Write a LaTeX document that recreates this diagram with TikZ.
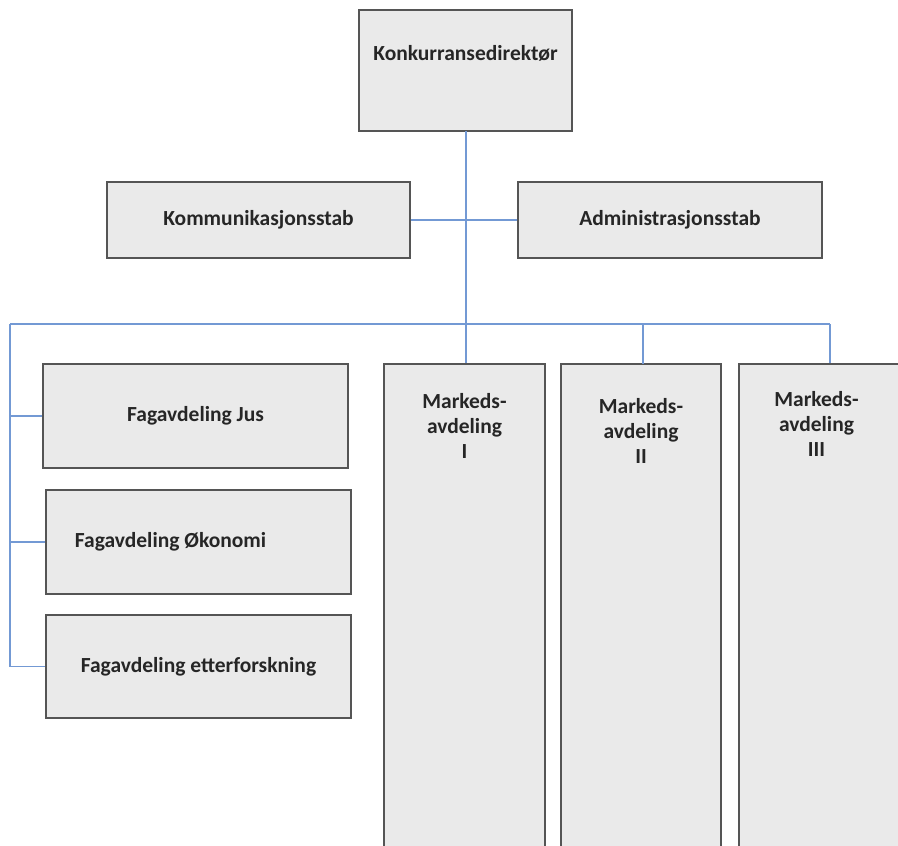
\documentclass[tikz,border=0pt]{standalone}
\usepackage{fontspec}
\setmainfont{Carlito}
\definecolor{boxfill}{RGB}{234,234,234}
\definecolor{boxline}{RGB}{85,85,85}
\definecolor{conncol}{RGB}{115,153,212}
\tikzset{
  orgbox/.style={draw=boxline, line width=1.8pt, fill=boxfill, rectangle, inner sep=0pt,
    font=\fontsize{21.5}{25}\selectfont\bfseries, text=black!85},
  conn/.style={draw=conncol, line width=1.6pt},
  mlabel/.style={anchor=north, align=center, inner sep=0pt, yshift=-30pt,
    font=\fontsize{21.5}{25}\selectfont\bfseries, text=black!85}
}
\begin{document}
\begin{tikzpicture}[x=1pt,y=-1pt]
\useasboundingbox (0,0) rectangle (898,846);
\clip (0,0) rectangle (898,846);
\fill[white] (0,0) rectangle (898,846);

\node[orgbox, minimum width=213pt, minimum height=121pt] (top) at (465.5,70.5) {\smash{\raisebox{10pt}{Konkurransedirektør}}};
\node[orgbox, minimum width=303pt, minimum height=76pt] (komm) at (258.5,220) {Kommunikasjonsstab};
\node[orgbox, minimum width=304pt, minimum height=76pt] (adm) at (670,220) {Administrasjonsstab};

\node[orgbox, minimum width=305pt, minimum height=104pt] (jus) at (195.5,416) {Fagavdeling Jus};
\node[orgbox, minimum width=305pt, minimum height=104pt] (oko) at (198.5,542) {\hspace*{-56pt}Fagavdeling Økonomi};
\node[orgbox, minimum width=305pt, minimum height=103pt] (ett) at (198.5,666.5) {Fagavdeling etterforskning};

\node[orgbox, minimum width=161pt, minimum height=496pt,
  label={[mlabel]north:{Markeds-\\avdeling\\I}}] (m1) at (464.5,612) {};
\node[orgbox, minimum width=160pt, minimum height=496pt,
  label={[mlabel, yshift=-5pt]north:{Markeds-\\avdeling\\II}}] (m2) at (641,612) {};
\node[orgbox, minimum width=171pt, minimum height=496pt,
  label={[mlabel, yshift=2pt, xshift=-8pt]north:{Markeds-\\avdeling\\III}}] (m3) at (824.5,612) {};

\coordinate (busL) at (10,324);
\coordinate (busR) at (830,324);
\coordinate (trunk) at (466,131);

\draw[conn] (trunk) -- (trunk |- m1.north);
\draw[conn] (komm.east) -- (adm.west);
\draw[conn] (busL) -- (busR);
\draw[conn] (busR) -- (busR |- m3.north);
\draw[conn] (643,324) -- (643,364);
\draw[conn] (busL) |- (ett.west);
\draw[conn] (jus.west) -- (jus.west -| busL);
\draw[conn] (oko.west) -- (oko.west -| busL);
\end{tikzpicture}
\end{document}
